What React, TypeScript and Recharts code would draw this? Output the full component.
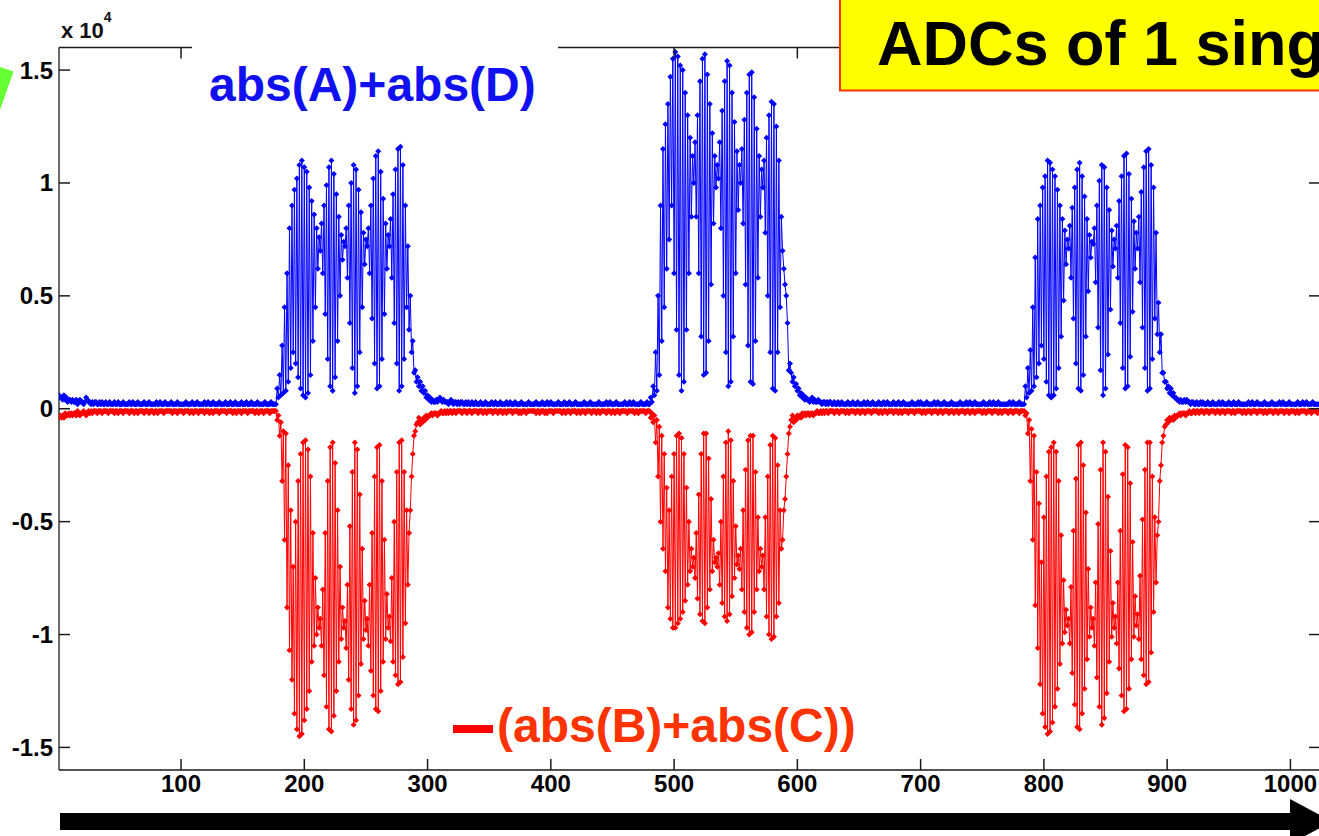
import React from 'react';
import { LineChart, Line, XAxis, YAxis } from 'recharts';

// sample values in units of 100 ADC counts (the axis reads x 10^4)
const xTicks = [100, 200, 300, 400, 500, 600, 700, 800, 900, 1000];
const yTicks = [-150, -100, -50, 0, 50, 100, 150];

// abs(A)+abs(D)
const blueLead = [
  6, 5, 5, 4, 6, 4, 5, 3, 4, 4, 3, 4, 3, 3, 4, 2, 3, 4, 3, 3,
  2, 3, 5, 4, 3, 3, 2, 3, 2, 3, 3, 2, 2, 3, 2, 3, 2, 2, 3, 2,
  2, 3, 2, 2, 2, 3, 2, 2, 3, 2, 2, 2, 3, 2, 2, 2, 2, 3, 2, 2,
  3, 2, 2, 2, 3, 2, 2, 2, 2, 3, 2, 2, 2, 3, 2, 2, 2, 2, 2, 3,
  2, 2, 3, 2, 2, 2, 3, 2, 2, 2, 2, 3, 2, 2, 2, 2, 3, 2, 2, 2,
  2, 2, 2, 3, 2, 2, 2, 2, 3, 2, 2, 2, 3, 2, 2, 2, 2, 2, 3, 2,
  2, 3, 2, 2, 2, 3, 2, 2, 2, 2, 3, 2, 2, 2, 2, 3, 2, 2, 2, 3,
  2, 2, 2, 3, 2, 2, 2, 2, 3, 2, 2, 2, 3, 2, 2, 2, 3, 2, 2, 2,
  2, 3, 2, 2, 2, 2, 2, 3, 2, 2, 2, 2, 3, 2, 2, 2, 2,
];
const blueBurst1 = [
  9, 5, 15, 6, 28, 7, 45, 8, 60, 12, 80, 18, 90, 25, 97, 20,
  102, 14, 108, 9, 110, 6, 107, 5, 105, 7, 98, 15,
  92, 30, 86, 45, 80, 62, 76, 70,
  82, 60, 90, 42, 99, 22, 107, 10, 110, 8, 104, 14, 95, 30, 85, 50, 77, 66, 74, 72,
  80, 58, 90, 38, 100, 18, 108, 7, 106, 10, 97, 25, 87, 45, 78, 64, 75, 72,
  80, 60, 90, 40, 102, 20, 112, 9, 114, 10, 105, 22, 93, 42, 82, 62, 77, 72,
  84, 58, 95, 38, 106, 20, 115, 8, 116, 10, 108, 22, 90, 45,
  72, 35, 50, 25, 30, 16, 17, 12,
  14, 10, 12, 8, 10, 7, 8, 5, 6, 4, 5, 3, 4, 3,
];
const blueGap1 = [
  3, 4, 3, 4, 5, 4, 3, 4, 3, 3, 3, 2, 3, 4, 3, 2, 3, 3, 2, 3,
  2, 3, 3, 2, 2, 3, 2, 3, 2, 2, 3, 2, 2, 3, 2, 2, 2, 3, 2, 2,
  2, 3, 2, 2, 2, 2, 3, 2, 2, 3, 2, 2, 2, 3, 2, 2, 2, 2, 3, 2,
  2, 3, 2, 2, 2, 3, 2, 2, 2, 2, 3, 2, 2, 2, 2, 2, 3, 2, 2, 2,
  2, 2, 3, 2, 2, 2, 2, 3, 2, 2, 2, 3, 2, 2, 3, 2, 2, 2, 2, 2,
  3, 2, 2, 2, 2, 3, 2, 2, 2, 3, 2, 2, 2, 2, 3, 2, 2, 2, 2, 2,
  2, 3, 2, 2, 2, 2, 3, 2, 2, 2, 2, 2, 2, 3, 2, 2, 2, 2, 2, 3,
  2, 2, 3, 2, 2, 2, 2, 3, 2, 2, 2, 2, 2, 2, 3, 2, 2, 2, 3, 2,
  2, 3, 2, 2, 2, 2, 2, 3, 2, 2, 2, 2, 3, 2, 2,
];
const blueBurst2 = [
  5, 3, 10, 6, 25, 8, 50, 15, 90, 30, 115, 45, 126, 62, 135, 75,
  147, 90, 155, 60, 158, 35, 156, 15, 152, 8, 150, 12, 140, 35,
  130, 60, 120, 85, 112, 100,
  118, 85, 130, 60, 145, 32, 155, 15, 157, 16, 148, 30, 135, 55, 122, 82, 112, 98, 108, 102,
  118, 80, 132, 50, 145, 25, 154, 10, 152, 12, 140, 32, 127, 60, 114, 88, 108, 100,
  115, 82, 128, 55, 140, 28, 148, 12, 149, 11, 138, 30, 124, 58, 112, 85, 106, 98,
  110, 78, 120, 50, 130, 25, 136, 9, 135, 8, 125, 25, 110, 45,
  85, 70, 62, 55, 50, 38, 17, 20,
  16, 12, 14, 10, 11, 8, 9, 6, 7, 5, 6, 4, 5, 4,
];
const blueGap2 = [
  4, 3, 4, 5, 3, 4, 3, 3, 4, 3, 3, 2, 3, 3, 2, 3, 2, 3, 3, 2,
  2, 3, 2, 2, 3, 2, 2, 3, 2, 2, 2, 2, 3, 2, 2, 2, 3, 2, 2, 2,
  3, 2, 2, 2, 2, 3, 2, 2, 3, 2, 2, 2, 3, 2, 2, 2, 2, 3, 2, 2,
  2, 3, 2, 2, 3, 2, 2, 2, 2, 3, 2, 2, 2, 3, 2, 2, 2, 3, 2, 2,
  2, 2, 2, 2, 3, 2, 2, 2, 2, 3, 2, 3, 2, 2, 2, 2, 3, 2, 2, 2,
  2, 2, 3, 2, 2, 3, 2, 2, 2, 2, 3, 2, 2, 2, 2, 2, 3, 2, 2, 2,
  2, 2, 2, 3, 2, 2, 2, 2, 3, 2, 2, 3, 2, 2, 2, 3, 2, 2, 2, 2,
  2, 2, 3, 2, 2, 2, 2, 3, 2, 2, 3, 2, 2, 2, 3, 2, 2, 2, 2, 2,
  2, 2, 2, 3, 2, 2, 3, 2, 2, 2, 2, 3, 2, 2, 2, 2,
];
const blueBurst3 = [
  10, 5, 18, 7, 26, 8, 45, 10, 67, 14, 84, 20, 90, 28, 98, 22,
  103, 12, 110, 6, 109, 5, 106, 6, 103, 9, 97, 18,
  90, 32, 84, 48, 79, 64, 75, 71,
  81, 58, 89, 40, 98, 20, 106, 9, 109, 8, 103, 15, 94, 32, 84, 52, 77, 67, 74, 73,
  80, 56, 90, 36, 101, 17, 108, 6, 107, 9, 98, 24, 88, 44, 79, 63, 75, 71,
  81, 58, 92, 38, 103, 18, 112, 9, 113, 10, 104, 23, 93, 43, 83, 62, 78, 71,
  85, 56, 96, 36, 107, 18, 114, 8, 115, 9, 108, 22, 98, 40,
  78, 33, 47, 25, 33, 16, 16, 12,
  12, 9, 10, 7, 9, 6, 7, 5, 5, 4, 4, 3, 4, 3,
];
const blueEnd = [
  3, 4, 3, 4, 3, 3, 2, 3, 3, 2, 2, 3, 2, 2, 3, 2, 3, 2, 2, 2,
  3, 2, 2, 2, 3, 2, 2, 2, 2, 3, 2, 2, 3, 2, 2, 2, 2, 3, 2, 2,
  2, 3, 2, 2, 2, 3, 2, 2, 2, 2, 2, 2, 2, 3, 2, 2, 3, 2, 2, 2,
  3, 2, 2, 2, 2, 2, 3, 2, 2, 2, 2, 2, 3, 2, 2, 2, 2, 2, 3, 2,
  2, 3, 2, 2, 2, 2, 3, 2, 2, 2, 2, 2, 2, 3, 2, 2, 2, 3, 2, 2,
  3, 2, 2, 2, 2, 3, 2, 2, 2, 2, 2, 2,
];

// -(abs(B)+abs(C))
const redLead = [
  -4, -3, -4, -3, -4, -2, -3, -3, -2, -3, -2, -3, -2, -2, -3, -1, -2, -3, -2, -2,
  -1, -2, -3, -2, -1, -2, -1, -2, -1, -1, -1, -2, -1, -1, -1, -2, -1, -1, -1, -1,
  -2, -1, -1, -1, -1, -2, -1, -1, -2, -1, -1, -1, -2, -1, -1, -1, -1, -2, -1, -1,
  -1, -2, -1, -1, -2, -1, -1, -1, -1, -2, -1, -1, -1, -2, -1, -1, -1, -2, -1, -1,
  -2, -1, -1, -1, -1, -2, -1, -1, -1, -1, -1, -1, -2, -1, -1, -1, -2, -1, -1, -1,
  -1, -2, -1, -1, -1, -1, -2, -1, -1, -2, -1, -1, -1, -2, -1, -1, -1, -1, -2, -1,
  -1, -1, -2, -1, -1, -2, -1, -1, -1, -1, -2, -1, -1, -1, -1, -1, -2, -1, -1, -1,
  -1, -2, -1, -1, -2, -1, -1, -1, -2, -1, -1, -1, -1, -2, -1, -1, -1, -1, -1, -2,
  -1, -1, -2, -1, -1, -1, -2, -1, -1, -1, -1, -2, -1, -1, -1, -1, -1,
];
const redBurst1 = [
  -5, -3, -12, -6, -32, -10, -58, -11, -88, -25, -107, -45, -120, -70, -135, -50,
  -142, -32, -145, -20, -144, -15, -138, -14, -133, -18, -125, -30,
  -112, -55, -105, -75, -100, -88, -97, -93,
  -105, -80, -118, -55, -132, -32, -142, -17, -143, -15, -136, -24, -125, -45, -112, -70, -102, -88, -97, -94,
  -106, -78, -120, -52, -133, -28, -140, -15, -138, -18, -127, -38, -113, -62, -102, -85, -98, -93,
  -105, -78, -116, -55, -127, -30, -133, -17, -134, -16, -125, -32, -112, -58, -102, -82, -97, -92,
  -103, -75, -112, -50, -118, -28, -122, -15, -121, -14, -110, -28, -95, -45,
  -78, -55, -45, -30, -20, -12, -10, -7,
  -6, -4, -7, -5, -6, -4, -5, -3, -4, -3, -3, -2, -3, -2,
];
const redGap1 = [
  -2, -2, -3, -2, -2, -1, -2, -2, -1, -2, -1, -2, -1, -1, -2, -1, -1, -2, -1, -1,
  -1, -1, -2, -1, -1, -1, -2, -1, -1, -1, -2, -1, -1, -1, -1, -2, -1, -1, -1, -2,
  -1, -1, -2, -1, -1, -1, -1, -2, -1, -1, -1, -2, -1, -1, -1, -2, -1, -1, -2, -1,
  -1, -1, -1, -2, -1, -1, -1, -1, -2, -1, -2, -1, -1, -1, -2, -1, -1, -1, -1, -1,
  -1, -1, -2, -1, -1, -2, -1, -1, -1, -2, -1, -2, -1, -1, -1, -1, -2, -1, -1, -1,
  -1, -1, -1, -2, -1, -1, -2, -1, -1, -1, -2, -1, -1, -1, -1, -2, -1, -1, -2, -1,
  -1, -1, -2, -1, -1, -1, -1, -2, -1, -1, -1, -2, -1, -1, -2, -1, -1, -1, -1, -2,
  -1, -1, -1, -2, -1, -1, -2, -1, -1, -1, -2, -1, -1, -1, -1, -1, -2, -1, -1, -1,
  -1, -1, -2, -1, -1, -2, -1, -1, -1, -1, -1, -2, -1, -1, -1,
];
const redBurst2 = [
  -4, -2, -6, -3, -15, -5, -30, -8, -50, -12, -62, -20, -72, -35, -88, -45,
  -93, -30, -97, -20, -97, -12, -95, -11, -93, -13, -90, -20, -85, -35,
  -78, -50, -72, -62, -70, -66,
  -75, -55, -84, -38, -91, -20, -94, -11, -95, -11, -88, -22, -80, -40, -72, -58, -68, -66, -70, -64,
  -78, -50, -86, -30, -92, -15, -94, -10, -91, -14, -83, -32, -75, -52, -69, -65, -71, -62,
  -80, -45, -90, -27, -97, -14, -100, -12, -99, -12, -90, -28, -80, -48, -72, -62, -70, -65,
  -80, -48, -92, -30, -100, -16, -102, -12, -101, -13, -92, -25, -86, -45,
  -62, -58, -45, -40, -30, -20, -11, -8,
  -5, -3, -6, -4, -5, -3, -4, -3, -4, -2, -3, -2, -3, -2,
];
const redGap2 = [
  -2, -3, -2, -2, -3, -2, -2, -1, -2, -2, -1, -2, -1, -2, -1, -1, -2, -1, -1, -1,
  -1, -2, -1, -1, -1, -2, -1, -1, -1, -1, -2, -1, -1, -2, -1, -1, -1, -1, -2, -1,
  -1, -1, -2, -1, -1, -1, -2, -1, -1, -1, -1, -2, -1, -1, -1, -1, -1, -2, -1, -1,
  -2, -1, -1, -1, -2, -1, -1, -1, -1, -2, -1, -1, -1, -2, -1, -1, -2, -1, -1, -1,
  -1, -2, -1, -1, -1, -1, -2, -1, -1, -1, -1, -1, -2, -1, -1, -2, -1, -1, -1, -1,
  -2, -1, -1, -1, -1, -2, -1, -1, -1, -2, -1, -1, -1, -1, -2, -1, -1, -1, -2, -1,
  -1, -1, -2, -1, -1, -1, -1, -2, -1, -1, -1, -2, -1, -1, -1, -2, -1, -1, -1, -1,
  -1, -2, -1, -1, -2, -1, -1, -1, -1, -2, -1, -1, -1, -1, -2, -1, -1, -2, -1, -1,
  -1, -1, -2, -1, -1, -1, -2, -1, -1, -1, -1, -2, -1, -1, -1, -1,
];
const redBurst3 = [
  -3, -2, -11, -5, -32, -9, -58, -12, -87, -28, -106, -42, -122, -68, -135, -48,
  -141, -30, -144, -19, -143, -17, -139, -15, -132, -19, -124, -32,
  -113, -56, -104, -76, -99, -89, -96, -93,
  -104, -79, -117, -54, -131, -31, -141, -16, -142, -15, -135, -25, -124, -46, -111, -71, -101, -88, -97, -93,
  -105, -77, -119, -51, -132, -27, -140, -15, -137, -19, -126, -39, -112, -63, -101, -86, -97, -92,
  -104, -77, -115, -54, -127, -29, -134, -16, -133, -17, -124, -33, -111, -59, -101, -83, -96, -91,
  -102, -74, -111, -49, -118, -27, -122, -15, -121, -15, -108, -30, -90, -48,
  -77, -56, -50, -32, -25, -15, -12, -8,
  -7, -5, -6, -4, -5, -4, -5, -3, -4, -3, -3, -2, -3, -2,
];
const redEnd = [
  -2, -2, -3, -2, -2, -1, -2, -2, -1, -1, -2, -1, -1, -2, -1, -1, -1, -2, -1, -1,
  -1, -2, -1, -1, -1, -1, -2, -1, -1, -1, -2, -1, -1, -1, -2, -1, -1, -1, -1, -2,
  -1, -1, -2, -1, -1, -1, -1, -1, -2, -1, -1, -2, -1, -1, -1, -2, -1, -1, -1, -1,
  -2, -1, -1, -1, -1, -2, -1, -1, -2, -1, -1, -1, -1, -2, -1, -1, -1, -2, -1, -1,
  -1, -1, -2, -1, -1, -1, -2, -1, -1, -1, -1, -2, -1, -1, -2, -1, -1, -1, -1, -1,
  -2, -1, -1, -1, -2, -1, -1, -1, -1, -2, -1, -1,
];

const seg = (start: number, vals: number[]) => vals.map((v, i) => ({ n: start + i, v }));

const blueData = [
  ...seg(1, blueLead), ...seg(178, blueBurst1), ...seg(306, blueGap1),
  ...seg(481, blueBurst2), ...seg(609, blueGap2), ...seg(785, blueBurst3), ...seg(913, blueEnd),
];
const redData = [
  ...seg(1, redLead), ...seg(178, redBurst1), ...seg(306, redGap1),
  ...seg(481, redBurst2), ...seg(609, redGap2), ...seg(785, redBurst3), ...seg(913, redEnd),
];

const FONT = '"Liberation Sans", Arial, Helvetica, sans-serif';
const AX = '#1a1a1a';
const TICK = 11;

// tick-only axes: recharts hands each tick the point on the axis line
const InTickUp = (p: any) => <line x1={p.x} x2={p.x} y1={p.y} y2={p.y - TICK} stroke={AX} strokeWidth={1.5} />;
const InTickDown = (p: any) => <line x1={p.x} x2={p.x} y1={p.y} y2={p.y + TICK} stroke={AX} strokeWidth={1.5} />;
const InTickRight = (p: any) => <line x1={p.x} x2={p.x + TICK} y1={p.y} y2={p.y} stroke={AX} strokeWidth={1.5} />;
const InTickLeft = (p: any) => <line x1={p.x} x2={p.x - TICK} y1={p.y} y2={p.y} stroke={AX} strokeWidth={1.5} />;

const tickFont = { fill: '#000', fontSize: 24, fontWeight: 700, fontFamily: FONT };

const marker = (color: string, tag: string) => (p: any) => {
  const { cx, cy, index } = p;
  if (cx == null || cy == null) return <g key={`${tag}${index}`} />;
  const s = 3;
  return (
    <path
      key={`${tag}${index}`}
      d={`M${cx},${cy - s}L${cx + s},${cy}L${cx},${cy + s}L${cx - s},${cy}Z`}
      fill={color}
    />
  );
};

const App = () => {
  return (
    <div style={{ position: 'fixed', left: 0, top: 0, width: 1319, height: 836, overflow: 'hidden', background: '#fff' }}>
      <LineChart width={1321} height={836} margin={{ top: 46.5, right: 0, bottom: 0, left: 0 }}>
        {/* inner axes ("xa", "ya" sort first, so they sit on the plot box): box lines and inward ticks */}
        <XAxis
          xAxisId="xa" dataKey="n" type="number" domain={[1, 1024]} ticks={xTicks} interval={0}
          height={1} tickSize={0} tickMargin={0} tickLine={false} allowDataOverflow
          axisLine={{ stroke: AX, strokeWidth: 1.3 }} tick={InTickUp}
        />
        <XAxis
          xAxisId="xt" orientation="top" dataKey="n" type="number" domain={[1, 1024]} ticks={xTicks} interval={0}
          height={1} tickSize={0} tickMargin={0} tickLine={false} allowDataOverflow
          axisLine={{ stroke: AX, strokeWidth: 1.3 }} tick={InTickDown}
        />
        <YAxis
          yAxisId="ya" type="number" domain={[-160, 160]} ticks={yTicks} interval={0}
          width={1} tickSize={0} tickMargin={0} tickLine={false} allowDataOverflow
          axisLine={{ stroke: AX, strokeWidth: 1.3 }} tick={InTickRight}
        />
        <YAxis
          yAxisId="yr" orientation="right" type="number" domain={[-160, 160]} ticks={yTicks} interval={0}
          width={1} tickSize={0} tickMargin={0} tickLine={false} allowDataOverflow
          axisLine={{ stroke: AX, strokeWidth: 1.3 }} tick={InTickLeft}
        />
        {/* outer axes: tick labels only */}
        <XAxis
          xAxisId="xb" dataKey="n" type="number" domain={[1, 1024]} ticks={xTicks} interval={0}
          height={65} tickSize={0} tickMargin={4} tickLine={false} axisLine={false} allowDataOverflow
          tick={tickFont}
        />
        <YAxis
          yAxisId="yb" type="number" domain={[-160, 160]} ticks={yTicks} interval={0}
          width={58} tickSize={0} tickMargin={5} tickLine={false} axisLine={false} allowDataOverflow
          tickFormatter={(v: number) => String(v / 100)}
          tick={tickFont}
        />
        <Line
          xAxisId="xa" yAxisId="ya" data={blueData} dataKey="v" stroke="#0000ff" strokeWidth={1}
          dot={marker('#0000ff', 'b')} activeDot={false} isAnimationActive={false}
        />
        <Line
          xAxisId="xa" yAxisId="ya" data={redData} dataKey="v" stroke="#ff0000" strokeWidth={1}
          dot={marker('#ff0000', 'r')} activeDot={false} isAnimationActive={false}
        />
      </LineChart>
      <svg width={1319} height={836} style={{ position: 'absolute', left: 0, top: 0, pointerEvents: 'none' }}>
        <rect x={192} y={28} width={366} height={90} fill="#fff" />
        <text x={209} y={101} fontFamily={FONT} fontWeight={700} fontSize={48} fill="#1010f0">abs(A)+abs(D)</text>
        <text x={61} y={38} fontFamily={FONT} fontWeight={700} fontSize={22} fill="#111">
          x 10<tspan dy={-16} fontSize={14}>4</tspan>
        </text>
        <polygon points="0,67 13.5,71.5 0,110" fill="#66ff33" />
        <rect x={840} y={-4} width={490} height={94.5} fill="#ffff00" stroke="#ff3300" strokeWidth={2} />
        <text x={877} y={65} fontFamily={FONT} fontWeight={700} fontSize={63} fill="#000">ADCs of 1 sing</text>
        <rect x={453} y={725} width={40} height={8} fill="#ff0000" />
        <text x={497} y={742} fontFamily={FONT} fontWeight={700} fontSize={48} fill="#ff3300">(abs(B)+abs(C))</text>
        <rect x={60} y={813} width={1232} height={17} fill="#000" />
        <polygon points="1290,799 1332,821.5 1290,844" fill="#000" />
      </svg>
    </div>
  );
};

export default App;
